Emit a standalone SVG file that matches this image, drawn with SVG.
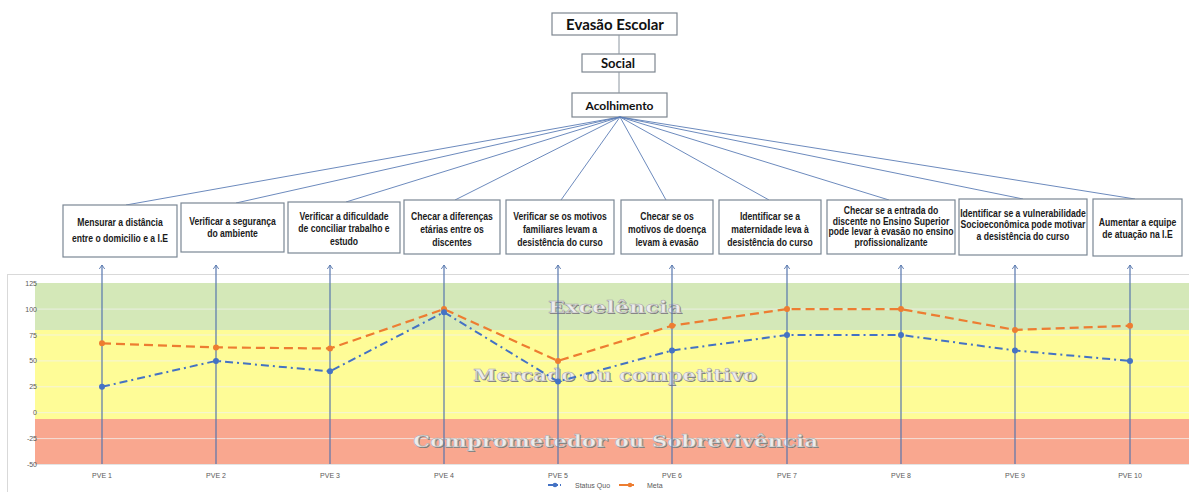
<svg xmlns="http://www.w3.org/2000/svg" width="1189" height="492" viewBox="0 0 1189 492">
  <style>
    .hbox { fill: #ffffff; stroke: #7d8690; stroke-width: 1.2; }
    .htxt { font-family: Lato, "Liberation Sans", sans-serif; font-weight: bold; fill: #111; text-anchor: middle; }
    .box { fill: #ffffff; stroke: #7b8794; stroke-width: 1.2; }
    .btxt { font-family: "Liberation Sans", Arial, sans-serif; font-weight: bold; font-size: 10.5px; fill: #1a1a1a; text-anchor: middle; }
    .fan { stroke: #5b7db5; stroke-width: 0.9; fill: none; }
    .stem { stroke: #8c96a0; stroke-width: 1; }
    .arrow { stroke: #5676ad; stroke-width: 1.2; fill: none; }
    .grid { stroke: #f2f2f2; stroke-width: 1; opacity: 0.75; }
    .axis { font-family: "Liberation Sans", sans-serif; font-size: 7px; fill: #595959; }
    .meta { stroke: #ed7d31; stroke-width: 2.2; fill: none; stroke-dasharray: 9 5; }
    .sq { stroke: #4472c4; stroke-width: 2; fill: none; stroke-dasharray: 8 4 2 4; }
    .band-sh { font-family: "DejaVu Serif", "Liberation Serif", serif; font-weight: bold; fill: #7a7a7a; text-anchor: middle; }
    .band { font-family: "DejaVu Serif", "Liberation Serif", serif; font-weight: bold; fill: #ececec; stroke: #a8a8a8; stroke-width: 0.5; text-anchor: middle; }
  </style>
  <defs>
    <marker id="up" viewBox="0 0 4 6" refX="4" refY="3" markerWidth="4" markerHeight="6" markerUnits="userSpaceOnUse" orient="auto">
      <path d="M0,0.3 L4,3 L0,5.7" fill="none" stroke="#5676ad" stroke-width="0.9"/>
    </marker>
  </defs>

  <rect width="1189" height="492" fill="#ffffff"/>

  <!-- hierarchy header -->
  <g id="evasao">
    <rect class="hbox" x="552" y="13" width="125" height="22"/>
    <text class="htxt" x="615" y="30" font-size="15">Evasão Escolar</text>
  </g>
  <g id="social">
    <rect class="hbox" x="582" y="54" width="73" height="18"/>
    <text class="htxt" x="618" y="68" font-size="13">Social</text>
  </g>
  <g id="acolhimento">
    <rect class="hbox" x="572" y="93" width="95" height="24"/>
    <text class="htxt" x="619.5" y="110" font-size="12">Acolhimento</text>
  </g>

  <!-- connectors -->
  <g id="connectors">
    <line class="stem" x1="619" y1="35" x2="619" y2="54"/>
    <line class="stem" x1="619" y1="72" x2="619" y2="93"/>
    <line class="fan" x1="620" y1="117" x2="126" y2="205"/>
    <line class="fan" x1="620" y1="117" x2="236" y2="203"/>
    <line class="fan" x1="620" y1="117" x2="346" y2="202"/>
    <line class="fan" x1="620" y1="117" x2="455" y2="200"/>
    <line class="fan" x1="620" y1="117" x2="561" y2="200"/>
    <line class="fan" x1="620" y1="117" x2="666" y2="200"/>
    <line class="fan" x1="620" y1="117" x2="769" y2="200"/>
    <line class="fan" x1="620" y1="117" x2="889" y2="200"/>
    <line class="fan" x1="620" y1="117" x2="1023" y2="199"/>
    <line class="fan" x1="620" y1="117" x2="1135" y2="199"/>
  </g>

  <!-- action boxes (text condensed horizontally around each box centre) -->
  <g id="pve1">
    <rect class="box" x="63" y="205" width="114" height="52"/>
    <g transform="translate(120 0) scale(0.82 1)">
      <text class="btxt" x="0" y="226">Mensurar a distância</text>
      <text class="btxt" x="0" y="242">entre o domicilio e a I.E</text>
    </g>
  </g>
  <g id="pve2">
    <rect class="box" x="181" y="203" width="103" height="49"/>
    <g transform="translate(232.5 0) scale(0.82 1)">
      <text class="btxt" x="0" y="225">Verificar a segurança</text>
      <text class="btxt" x="0" y="237">do ambiente</text>
    </g>
  </g>
  <g id="pve3">
    <rect class="box" x="288" y="202" width="112" height="51"/>
    <g transform="translate(344 0) scale(0.82 1)">
      <text class="btxt" x="0" y="220">Verificar a dificuldade</text>
      <text class="btxt" x="0" y="232.5">de conciliar trabalho e</text>
      <text class="btxt" x="0" y="245">estudo</text>
    </g>
  </g>
  <g id="pve4">
    <rect class="box" x="404" y="200" width="96" height="54"/>
    <g transform="translate(452 0) scale(0.82 1)">
      <text class="btxt" x="0" y="220">Checar a diferenças</text>
      <text class="btxt" x="0" y="233">etárias entre os</text>
      <text class="btxt" x="0" y="246">discentes</text>
    </g>
  </g>
  <g id="pve5">
    <rect class="box" x="506" y="200" width="108" height="54"/>
    <g transform="translate(560 0) scale(0.82 1)">
      <text class="btxt" x="0" y="220">Verificar se os motivos</text>
      <text class="btxt" x="0" y="233">familiares levam a</text>
      <text class="btxt" x="0" y="246">desistência do curso</text>
    </g>
  </g>
  <g id="pve6">
    <rect class="box" x="621" y="200" width="92" height="54"/>
    <g transform="translate(667 0) scale(0.82 1)">
      <text class="btxt" x="0" y="220">Checar se os</text>
      <text class="btxt" x="0" y="233">motivos de doença</text>
      <text class="btxt" x="0" y="246">levam à evasão</text>
    </g>
  </g>
  <g id="pve7">
    <rect class="box" x="719" y="200" width="102" height="54"/>
    <g transform="translate(770 0) scale(0.82 1)">
      <text class="btxt" x="0" y="220">Identificar se a</text>
      <text class="btxt" x="0" y="233">maternidade leva à</text>
      <text class="btxt" x="0" y="246">desistência do curso</text>
    </g>
  </g>
  <g id="pve8">
    <rect class="box" x="827" y="200" width="128" height="54"/>
    <g transform="translate(891 0) scale(0.82 1)">
      <text class="btxt" x="0" y="214">Checar se a entrada do</text>
      <text class="btxt" x="0" y="225">discente no Ensino Superior</text>
      <text class="btxt" x="0" y="235.5">pode levar à evasão no ensino</text>
      <text class="btxt" x="0" y="246.5">profissionalizante</text>
    </g>
  </g>
  <g id="pve9">
    <rect class="box" x="959" y="199" width="128" height="56"/>
    <g transform="translate(1023 0) scale(0.82 1)">
      <text class="btxt" x="0" y="217">Identificar se a vulnerabilidade</text>
      <text class="btxt" x="0" y="228.5">Socioeconômica pode motivar</text>
      <text class="btxt" x="0" y="240">a desistência do curso</text>
    </g>
  </g>
  <g id="pve10">
    <rect class="box" x="1093" y="199" width="89" height="57"/>
    <g transform="translate(1137.5 0) scale(0.82 1)">
      <text class="btxt" x="0" y="226">Aumentar a equipe</text>
      <text class="btxt" x="0" y="238">de atuação na I.E</text>
    </g>
  </g>

  <!-- chart -->
  <g id="chart">
    <rect x="7.5" y="274.5" width="1195" height="230" fill="#ffffff" stroke="#d9d9d9" stroke-width="1"/>
    <!-- performance bands -->
    <rect x="35" y="283" width="1154" height="47" fill="#d4e8b8"/>
    <rect x="35" y="330" width="1154" height="89" fill="#fefc97"/>
    <rect x="35" y="419" width="1154" height="45.5" fill="#f9a78f"/>
    <!-- gridlines -->
    <line class="grid" x1="35" y1="309.1" x2="1189" y2="309.1"/>
    <line class="grid" x1="35" y1="335" x2="1189" y2="335"/>
    <line class="grid" x1="35" y1="360.9" x2="1189" y2="360.9"/>
    <line class="grid" x1="35" y1="386.8" x2="1189" y2="386.8"/>
    <line class="grid" x1="35" y1="412.7" x2="1189" y2="412.7"/>
    <line class="grid" x1="35" y1="438.6" x2="1189" y2="438.6"/>
    <line x1="35" y1="464.5" x2="1189" y2="464.5" stroke="#e4e4e4" stroke-width="1"/>

    <!-- y axis labels -->
    <g class="axis" text-anchor="end">
      <text x="37" y="285.7">125</text>
      <text x="37" y="311.6">100</text>
      <text x="37" y="337.5">75</text>
      <text x="37" y="363.4">50</text>
      <text x="37" y="389.3">25</text>
      <text x="37" y="415.2">0</text>
      <text x="37" y="441.1">-25</text>
      <text x="37" y="467">-50</text>
    </g>

    <!-- band captions -->
    <text class="band-sh" x="616" y="314" font-size="16" textLength="134" lengthAdjust="spacingAndGlyphs">Excelência</text>
    <text class="band" x="615" y="313" font-size="16" textLength="134" lengthAdjust="spacingAndGlyphs">Excelência</text>
    <text class="band-sh" x="616" y="382" font-size="17" textLength="284" lengthAdjust="spacingAndGlyphs">Mercado ou competitivo</text>
    <text class="band" x="615" y="381" font-size="17" textLength="284" lengthAdjust="spacingAndGlyphs">Mercado ou competitivo</text>
    <text class="band-sh" x="616.5" y="448" font-size="17" textLength="405" lengthAdjust="spacingAndGlyphs">Comprometedor ou Sobrevivência</text>
    <text class="band" x="615.5" y="447" font-size="17" textLength="405" lengthAdjust="spacingAndGlyphs">Comprometedor ou Sobrevivência</text>

    <!-- links from each category up to its action box -->
    <g class="arrow" marker-end="url(#up)">
      <line x1="102" y1="464" x2="102" y2="265"/>
      <line x1="216" y1="464" x2="216" y2="265"/>
      <line x1="330" y1="464" x2="330" y2="265"/>
      <line x1="444" y1="464" x2="444" y2="265"/>
      <line x1="558" y1="464" x2="558" y2="265"/>
      <line x1="672" y1="464" x2="672" y2="265"/>
      <line x1="787" y1="464" x2="787" y2="265"/>
      <line x1="901" y1="464" x2="901" y2="265"/>
      <line x1="1015" y1="464" x2="1015" y2="265"/>
      <line x1="1130" y1="464" x2="1130" y2="265"/>
    </g>

    <!-- Meta series -->
    <polyline class="meta" points="102,343.3 216,347.4 330,348.5 444,309.1 558,360.9 672,325.7 787,309.1 901,309.1 1015,329.9 1130,325.7"/>
    <g fill="#ed7d31">
      <circle cx="102" cy="343.3" r="3"/>
      <circle cx="216" cy="347.4" r="3"/>
      <circle cx="330" cy="348.5" r="3"/>
      <circle cx="444" cy="309.1" r="3"/>
      <circle cx="558" cy="360.9" r="3"/>
      <circle cx="672" cy="325.7" r="3"/>
      <circle cx="787" cy="309.1" r="3"/>
      <circle cx="901" cy="309.1" r="3"/>
      <circle cx="1015" cy="329.9" r="3"/>
      <circle cx="1130" cy="325.7" r="3"/>
    </g>

    <!-- Status Quo series -->
    <polyline class="sq" points="102,386.8 216,360.9 330,371.3 444,312.2 558,381.6 672,350.5 787,335 901,335 1015,350.5 1130,360.9"/>
    <g fill="#4472c4">
      <circle cx="102" cy="386.8" r="3"/>
      <circle cx="216" cy="360.9" r="3"/>
      <circle cx="330" cy="371.3" r="3"/>
      <circle cx="444" cy="312.2" r="3"/>
      <circle cx="558" cy="381.6" r="3"/>
      <circle cx="672" cy="350.5" r="3"/>
      <circle cx="787" cy="335" r="3"/>
      <circle cx="901" cy="335" r="3"/>
      <circle cx="1015" cy="350.5" r="3"/>
      <circle cx="1130" cy="360.9" r="3"/>
    </g>

    <!-- x axis labels -->
    <g class="axis" text-anchor="middle">
      <text x="102" y="478">PVE 1</text>
      <text x="216" y="478">PVE 2</text>
      <text x="330" y="478">PVE 3</text>
      <text x="444" y="478">PVE 4</text>
      <text x="558" y="478">PVE 5</text>
      <text x="672" y="478">PVE 6</text>
      <text x="787" y="478">PVE 7</text>
      <text x="901" y="478">PVE 8</text>
      <text x="1015" y="478">PVE 9</text>
      <text x="1130" y="478">PVE 10</text>
    </g>

    <!-- legend -->
    <g id="legend">
      <line x1="548" y1="485" x2="561" y2="485" stroke="#4472c4" stroke-width="2" stroke-dasharray="6 2 2 2"/>
      <circle cx="555" cy="485" r="2.3" fill="#4472c4"/>
      <text class="axis" x="575" y="487.5">Status Quo</text>
      <line x1="619" y1="485" x2="634" y2="485" stroke="#ed7d31" stroke-width="2"/>
      <circle cx="630" cy="485" r="2.3" fill="#ed7d31"/>
      <text class="axis" x="647" y="487.5">Meta</text>
    </g>
  </g>
</svg>
